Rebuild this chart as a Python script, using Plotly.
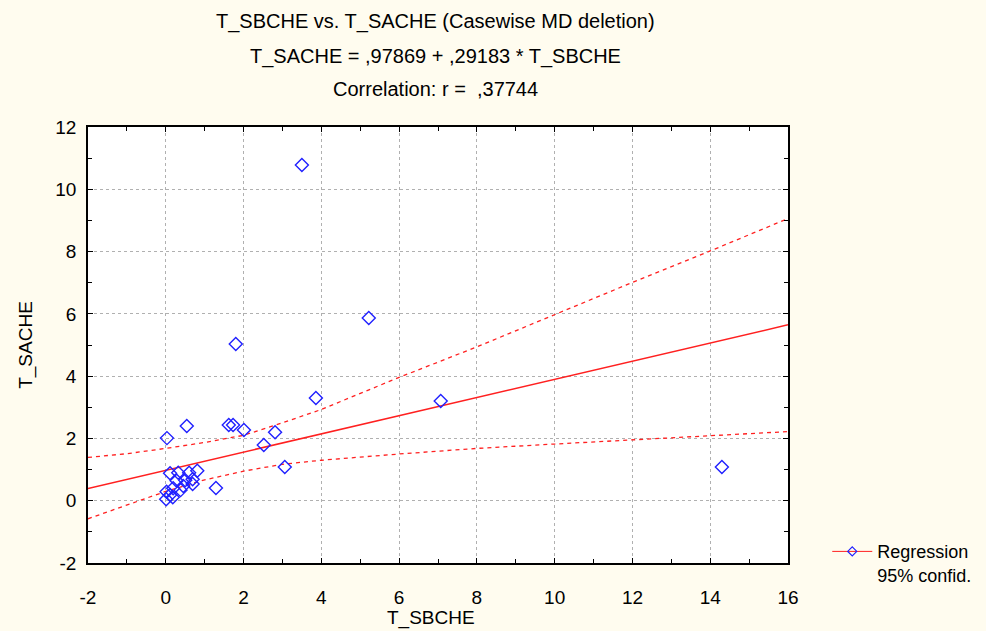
import plotly.graph_objects as go

# ---- data ----
sbche = [3.50, 5.22, 1.80, 3.86, 7.07, 14.30, 3.06, 2.81, 2.52, 2.01, 1.62, 1.73,
         0.54, 0.03, 1.29,
         0.11, 0.32, 0.60, 0.81, 0.28, 0.50, 0.69, 0.69, 0.45, 0.19, 0.02, 0.38,
         0.11, 0.01, 0.18]
sache = [10.78, 5.87, 5.03, 3.30, 3.20, 1.08, 1.08, 2.20, 1.79, 2.27, 2.43, 2.43,
         2.40, 2.01, 0.41,
         0.88, 0.90, 0.90, 0.96, 0.64, 0.66, 0.69, 0.54, 0.47, 0.40, 0.29, 0.34,
         0.18, 0.05, 0.11]

intercept = 0.97869
slope = 0.29183
reg_x = [-2, 16]

band_x = [-2, -1, 0, 1, 2, 3, 4, 6, 8, 10, 12, 14, 16]
band_upper = [1.39, 1.51, 1.68, 1.87, 2.10, 2.50, 2.93, 3.96, 4.94, 5.98, 7.01, 8.02, 9.06]
band_lower = [-0.58, -0.13, 0.30, 0.67, 0.95, 1.17, 1.30, 1.50, 1.68, 1.82, 1.95, 2.10, 2.22]

x_tickvals = [-2, 0, 2, 4, 6, 8, 10, 12, 14, 16]
x_ticktext = ["-2", "0", "2", "4", "6", "8", "10", "12", "14", "16"]
y_tickvals = [-2, 0, 2, 4, 6, 8, 10, 12]
y_ticktext = ["-2", "0", "2", "4", "6", "8", "10", "12"]

title_lines = ["T_SBCHE vs. T_SACHE (Casewise MD deletion)",
               "T_SACHE = ,97869 + ,29183 * T_SBCHE",
               "Correlation: r =  ,37744"]
x_title = "T_SBCHE"
y_title = "T_SACHE"

FONT = "Liberation Sans, Arial, sans-serif"
RED = "#ff2020"
BLUE = "#2020ff"

fig = go.Figure()

fig.add_trace(go.Scatter(x=band_x, y=band_upper, mode="lines",
                         line=dict(color=RED, width=1.3, dash="4px,4px"),
                         showlegend=False, hoverinfo="skip"))
fig.add_trace(go.Scatter(x=band_x, y=band_lower, mode="lines",
                         line=dict(color=RED, width=1.3, dash="4px,4px"),
                         showlegend=False, hoverinfo="skip"))
fig.add_trace(go.Scatter(x=reg_x, y=[intercept + slope * v for v in reg_x], mode="lines",
                         line=dict(color=RED, width=1.5),
                         showlegend=False, hoverinfo="skip"))
fig.add_trace(go.Scatter(x=sbche, y=sache, mode="markers",
                         marker=dict(symbol="diamond-open", size=10, color=BLUE,
                                     line=dict(width=1.4, color=BLUE)),
                         showlegend=False))
# legend entry
fig.add_trace(go.Scatter(x=[None], y=[None], mode="lines+markers",
                         name="Regression<br>95% confid.",
                         line=dict(color=RED, width=1),
                         marker=dict(symbol="diamond-open", size=7, color=BLUE,
                                     line=dict(width=1.2, color=BLUE))))

for i, t in enumerate(title_lines):
    fig.add_annotation(text=t, xref="paper", yref="paper", x=0.496, y=1.0,
                       yshift=[106, 71, 38][i], showarrow=False,
                       xanchor="center", yanchor="middle",
                       font=dict(family=FONT, size=20, color="#000000"))

fig.add_annotation(text=x_title, xref="paper", yref="paper", x=0.49, y=0.0,
                   yshift=-55, showarrow=False, xanchor="center", yanchor="middle",
                   font=dict(family=FONT, size=19, color="#000000"))

axis_common = dict(
    showline=True, linecolor="#000000", linewidth=1.5, mirror="ticks",
    ticks="inside", ticklen=5, tickcolor="#000000", tickwidth=1,
    showgrid=True, gridcolor="#b0b0b0", griddash="dot", gridwidth=1,
    zeroline=False, tickmode="array", automargin=False,
    tickfont=dict(family=FONT, size=19, color="#000000"),
    minor=dict(ticks="inside", ticklen=4, tickcolor="#000000", dtick=1, tick0=0,
               showgrid=False),
)

fig.update_xaxes(range=[-2, 16], tickvals=x_tickvals, ticktext=x_ticktext,
                 ticklabelstandoff=16, **axis_common)
fig.update_yaxes(range=[-2, 12], tickvals=y_tickvals, ticktext=y_ticktext,
                 ticklabelstandoff=6,
                 title=dict(text=y_title, font=dict(family=FONT, size=19, color="#000000"),
                            standoff=18),
                 **axis_common)

fig.update_layout(
    width=986, height=631,
    margin=dict(l=88, r=198, t=127, b=68, pad=0, autoexpand=False),
    paper_bgcolor="#fffcef", plot_bgcolor="#ffffff",
    showlegend=True,
    legend=dict(xref="container", yref="container", x=0.839, y=0.155,
                xanchor="left", yanchor="top",
                bgcolor="rgba(0,0,0,0)", valign="top",
                font=dict(family=FONT, size=18, color="#000000"),
                itemwidth=40),
    font=dict(family=FONT),
)

fig.write_html("out.html")
